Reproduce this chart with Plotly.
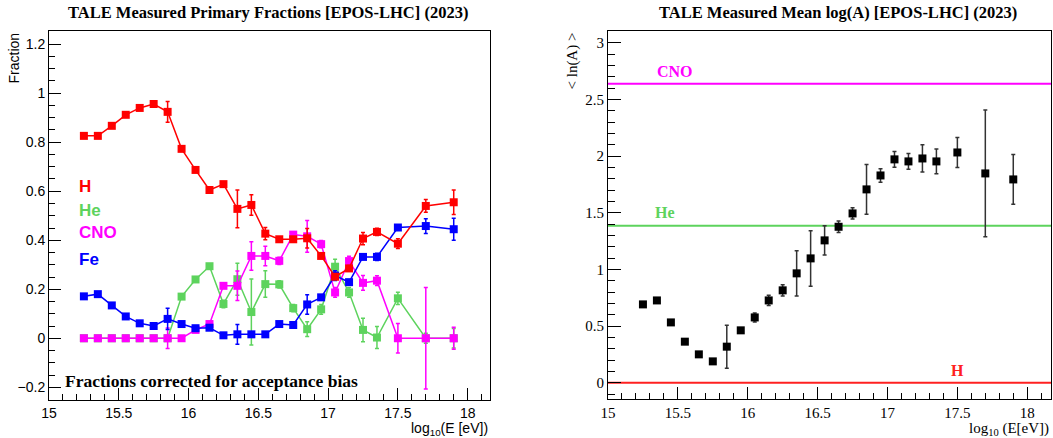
import plotly.graph_objects as go

# ---------------- data ----------------
logE = [15.25, 15.35, 15.45, 15.55, 15.65, 15.75, 15.85, 15.95, 16.05, 16.15,
        16.25, 16.35, 16.45, 16.55, 16.65, 16.75, 16.85, 16.95, 17.05, 17.15,
        17.25, 17.35, 17.5, 17.7, 17.9]

frac_H = [0.826, 0.826, 0.867, 0.912, 0.940, 0.956, 0.924, 0.773, 0.687, 0.605,
          0.629, 0.528, 0.544, 0.427, 0.404, 0.404, 0.408, 0.336, 0.251, 0.285,
          0.407, 0.434, 0.386, 0.540, 0.555]
err_H = [0.0, 0.0, 0.0, 0.0, 0.0, 0.0, 0.042, 0.0, 0.0, 0.0,
         0.0, 0.077, 0.042, 0.025, 0.008, 0.008, 0.040, 0.010, 0.010, 0.012,
         0.025, 0.015, 0.020, 0.026, 0.050]

frac_He = [0.0, 0.0, 0.0, 0.0, 0.0, 0.0, 0.0, 0.170, 0.240, 0.294,
           0.140, 0.241, 0.107, 0.221, 0.220, 0.123, 0.037, 0.118, 0.292, 0.187,
           0.034, 0.003, 0.163, 0.0, 0.0]
err_He = [0.0, 0.0, 0.0, 0.0, 0.0, 0.0, 0.0, 0.0, 0.0, 0.0,
          0.015, 0.065, 0.135, 0.054, 0.015, 0.015, 0.030, 0.020, 0.030, 0.020,
          0.048, 0.045, 0.025, 0.020, 0.040]

frac_CNO = [0.0, 0.0, 0.0, 0.0, 0.0, 0.0, 0.0, 0.0, 0.034, 0.058,
            0.214, 0.214, 0.336, 0.336, 0.316, 0.423, 0.416, 0.384, 0.187, 0.315,
            0.226, 0.235, 0.0, 0.0, 0.0]
err_CNO = [0.0, 0.0, 0.0, 0.0, 0.0, 0.0, 0.042, 0.0, 0.0, 0.0,
           0.0, 0.060, 0.058, 0.040, 0.015, 0.0, 0.065, 0.015, 0.020, 0.020,
           0.030, 0.020, 0.060, 0.207, 0.045]

frac_Fe = [0.171, 0.180, 0.134, 0.089, 0.061, 0.050, 0.079, 0.058, 0.041, 0.043,
           0.012, 0.016, 0.016, 0.016, 0.058, 0.054, 0.138, 0.167, 0.256, 0.229,
           0.332, 0.332, 0.452, 0.458, 0.445]
err_Fe = [0.0, 0.0, 0.0, 0.0, 0.0, 0.0, 0.043, 0.0, 0.0, 0.0,
          0.0, 0.040, 0.0, 0.0, 0.0, 0.0, 0.040, 0.0, 0.020, 0.0,
          0.0, 0.015, 0.0, 0.030, 0.045]

lnA = [0.691, 0.726, 0.532, 0.362, 0.250, 0.188, 0.318, 0.462, 0.576, 0.726,
       0.815, 0.965, 1.097, 1.256, 1.376, 1.494, 1.706, 1.829, 1.971, 1.953,
       1.979, 1.953, 2.032, 1.847, 1.794]
err_lnA = [0.0, 0.0, 0.0, 0.0, 0.0, 0.0, 0.19, 0.0, 0.04, 0.045,
           0.05, 0.20, 0.245, 0.13, 0.05, 0.05, 0.22, 0.06, 0.07, 0.07,
           0.12, 0.11, 0.133, 0.56, 0.22]

ref_names = ["H", "He", "CNO"]
ref_lnA = [0.0, 1.386, 2.639]
ref_colors = ["#ff2020", "#5dd35d", "#ff00ff"]
ref_label_x = [17.5, 15.41, 15.48]
ref_label_y = [0.106, 1.50, 2.75]

# ---------------- figure ----------------
W, H = 1053, 438
RED, GREEN, MAG, BLUE = "#ff0000", "#5dd35d", "#ff00ff", "#0000ff"

fig = go.Figure()

series = [
    ("He", frac_He, err_He, GREEN),
    ("CNO", frac_CNO, err_CNO, MAG),
    ("Fe", frac_Fe, err_Fe, BLUE),
    ("H", frac_H, err_H, RED),
]
for name, vals, errs, col in series:
    fig.add_trace(go.Scatter(
        x=logE, y=vals, mode="lines+markers", name=name,
        line=dict(color=col, width=1.5),
        marker=dict(symbol="square", size=8, color=col),
        error_y=dict(type="data", array=errs, visible=True, color=col,
                     thickness=1.5, width=2),
        xaxis="x", yaxis="y", showlegend=False))

# reference lines on right panel
for nm, v, col in zip(ref_names, ref_lnA, ref_colors):
    fig.add_trace(go.Scatter(
        x=[15.0, 18.17], y=[v, v], mode="lines",
        line=dict(color=col, width=2), xaxis="x2", yaxis="y2",
        showlegend=False, hoverinfo="skip"))

fig.add_trace(go.Scatter(
    x=logE, y=lnA, mode="markers",
    marker=dict(symbol="square", size=8, color="black"),
    error_y=dict(type="data", array=err_lnA, visible=True, color="#333333",
                 thickness=1.5, width=2),
    xaxis="x2", yaxis="y2", showlegend=False))

ax_common = dict(showline=True, linecolor="black", linewidth=1, mirror=True,
                 ticks="inside", tickcolor="black", showgrid=False,
                 zeroline=False, automargin=False)

sans = dict(family="Liberation Sans, Arial, sans-serif", size=14, color="black")
serif = dict(family="Liberation Serif, Times New Roman, serif", size=15, color="black")

fig.update_layout(
    width=W, height=H,
    margin=dict(l=0, r=0, t=0, b=0),
    paper_bgcolor="white", plot_bgcolor="white",
    xaxis=dict(domain=[49 / W, 490 / W], range=[15.0, 18.16], dtick=0.5, tick0=15,
               ticklen=12, tickfont=sans, anchor="y",
               minor=dict(dtick=0.1, ticks="inside", ticklen=6, tickcolor="black"),
               **ax_common),
    yaxis=dict(domain=[1 - 400 / H, 1 - 31 / H], range=[-0.252, 1.254], dtick=0.2, tick0=0,
               ticklen=12, tickfont=sans, anchor="x",
               minor=dict(dtick=0.05, ticks="inside", ticklen=6, tickcolor="black"),
               **ax_common),
    xaxis2=dict(domain=[608 / W, 1051 / W], range=[15.0, 18.17], dtick=0.5, tick0=15,
                ticklen=12, tickfont=serif, anchor="y2",
                minor=dict(dtick=0.1, ticks="inside", ticklen=6, tickcolor="black"),
                **ax_common),
    yaxis2=dict(domain=[1 - 399 / H, 1 - 31 / H], range=[-0.144, 3.104], dtick=0.5, tick0=0,
                ticklen=13, tickfont=serif, anchor="x2",
                minor=dict(dtick=0.1, ticks="inside", ticklen=7, tickcolor="black"),
                **ax_common),
)

ann = []
title_font = dict(family="Liberation Serif, Times New Roman, serif", size=16.5, color="black")
ann.append(dict(text="<b>TALE Measured Primary Fractions [EPOS-LHC] (2023)</b>",
                x=268 / W, y=1 - 12 / H, xref="paper", yref="paper",
                showarrow=False, xanchor="center", yanchor="middle", font=title_font))
ann.append(dict(text="<b>TALE Measured Mean log(A) [EPOS-LHC] (2023)</b>",
                x=838 / W, y=1 - 12 / H, xref="paper", yref="paper",
                showarrow=False, xanchor="center", yanchor="middle", font=title_font))
# axis titles
ann.append(dict(text="log<sub>10</sub>(E [eV])", x=490 / W, y=1 - 429 / H,
                xref="paper", yref="paper", showarrow=False,
                xanchor="right", yanchor="middle", font=sans))
ann.append(dict(text="log<sub>10</sub> (E[eV])", x=1051 / W, y=1 - 429 / H,
                xref="paper", yref="paper", showarrow=False,
                xanchor="right", yanchor="middle", font=serif))
ann.append(dict(text="Fraction", x=13 / W, y=1 - 31 / H, xref="paper", yref="paper",
                showarrow=False, textangle=-90, xanchor="center", yanchor="top",
                font=sans))
ann.append(dict(text="&lt; ln(A) &gt;", x=572 / W, y=1 - 31 / H, xref="paper", yref="paper",
                showarrow=False, textangle=-90, xanchor="center", yanchor="top",
                font=serif))
# left-panel legend texts
lab_font = dict(family="Liberation Sans, Arial, sans-serif", size=17)
for txt, yy, col in [("H", 0.62, RED), ("He", 0.52, GREEN), ("CNO", 0.43, MAG), ("Fe", 0.32, BLUE)]:
    ann.append(dict(text=f"<b>{txt}</b>", x=15.2, y=yy, xref="x", yref="y",
                    showarrow=False, xanchor="left", yanchor="middle",
                    font=dict(color=col, **lab_font)))
ann.append(dict(text="<b>Fractions corrected for acceptance bias</b>", x=15.1, y=-0.173,
                xref="x", yref="y", showarrow=False, xanchor="left", yanchor="middle",
                font=dict(family="Liberation Serif, Times New Roman, serif", size=17.5, color="black")))
# right-panel line labels
for nm, lx, ly, col in zip(ref_names, ref_label_x, ref_label_y, ref_colors):
    ann.append(dict(text=f"<b>{nm}</b>", x=lx, y=ly, xref="x2", yref="y2",
                    showarrow=False, xanchor="center", yanchor="middle",
                    font=dict(family="Liberation Serif, Times New Roman, serif", size=16, color=col)))

fig.update_layout(annotations=ann)
fig.write_html("out.html", config={"displayModeBar": False},
               post_script="document.body.style.margin='0';document.body.style.padding='0';document.body.style.overflow='hidden';")
